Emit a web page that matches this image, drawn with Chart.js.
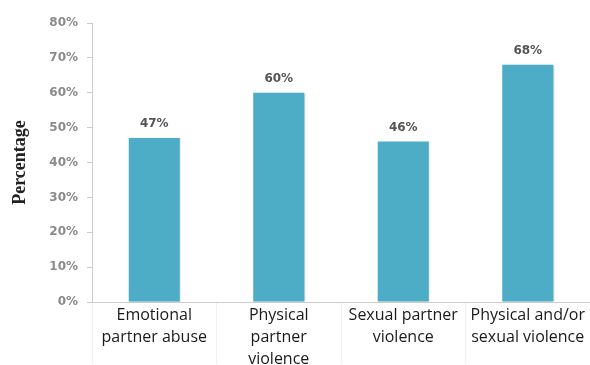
<!DOCTYPE html>
<html lang="en">

<head>
    <meta charset="UTF-8">
    <title>Partner violence</title>
    <script src="https://cdn.jsdelivr.net/npm/chart.js"></script>
    <style>
        html, body { margin: 0; padding: 0; background: #fff; }
        #box { width: 590px; height: 365px; }
    </style>
</head>

<body>
    <div id="box">
        <canvas id="grafico" width="590" height="365"></canvas>
    </div>
</body>

<script>
    // categorias (quebradas em linhas) e valores em %
    const categorias = [
        ['Emotional', 'partner abuse'],
        ['Physical', 'partner', 'violence'],
        ['Sexual partner', 'violence'],
        ['Physical and/or', 'sexual violence']
    ];
    const percentuais = [47, 60, 46, 68];
    const ticksY = [0, 10, 20, 30, 40, 50, 60, 70, 80];

    const corBarra = '#4dadc6';

    // escreve o valor em cima de cada barra
    const rotulos = {
        id: 'rotulos',
        afterDatasetsDraw(chart) {
            const ctx = chart.ctx;
            const meta = chart.getDatasetMeta(0);
            ctx.save();
            ctx.font = 'bold 12px "DejaVu Sans"';
            ctx.fillStyle = '#555';
            ctx.textAlign = 'center';
            ctx.textBaseline = 'bottom';
            meta.data.forEach(function (barra, i) {
                ctx.fillText(percentuais[i] + '%', barra.x, barra.y - 8);
            });
            ctx.restore();
        }
    };

    // sombra leve nas barras
    const sombra = {
        id: 'sombra',
        beforeDatasetsDraw(chart) {
            const ctx = chart.ctx;
            ctx.save();
            ctx.shadowColor = 'rgba(0,0,0,0.18)';
            ctx.shadowOffsetX = 1.5;
            ctx.shadowOffsetY = 0;
            ctx.shadowBlur = 1.5;
        },
        afterDatasetsDraw(chart) {
            chart.ctx.restore();
        }
    };

    const chart = new Chart(document.getElementById('grafico'), {
        type: 'bar',
        data: {
            labels: categorias,
            datasets: [{
                data: percentuais,
                backgroundColor: corBarra,
                categoryPercentage: 1,
                barPercentage: 0.41
            }]
        },
        options: {
            responsive: false,
            animation: false,
            layout: { padding: { top: 23, right: 0, bottom: 0, left: 0 } },
            plugins: {
                legend: { display: false },
                tooltip: { enabled: false }
            },
            scales: {
                y: {
                    min: 0,
                    max: 80,
                    afterFit: function (scale) { scale.width = 92; },
                    afterBuildTicks: function (scale) {
                        scale.ticks = ticksY.map(v => ({ value: v }));
                    },
                    ticks: {
                        callback: v => v + '%',
                        font: { family: 'DejaVu Sans', size: 12, weight: 'bold' },
                        color: '#8a8a8a',
                        padding: 9
                    },
                    grid: {
                        drawOnChartArea: false,
                        tickLength: 5,
                        color: '#ccc'
                    },
                    border: { color: '#ccc' },
                    title: {
                        display: true,
                        text: 'Percentage',
                        font: { family: 'Liberation Serif', size: 18, weight: 'bold', lineHeight: 1.2 },
                        color: '#222',
                        padding: { top: 10, bottom: 0 }
                    }
                },
                x: {
                    afterFit: function (scale) { scale.height = 63; },
                    ticks: {
                        font: { family: 'Open Sans', size: 16, lineHeight: 1.375 },
                        color: '#1a1a1a',
                        padding: -60,
                        maxRotation: 0,
                        autoSkip: false
                    },
                    grid: {
                        drawOnChartArea: false,
                        tickLength: 62,
                        color: '#f0f0f0'
                    },
                    border: { color: '#ccc' }
                }
            }
        },
        plugins: [sombra, rotulos]
    });
</script>

</html>
